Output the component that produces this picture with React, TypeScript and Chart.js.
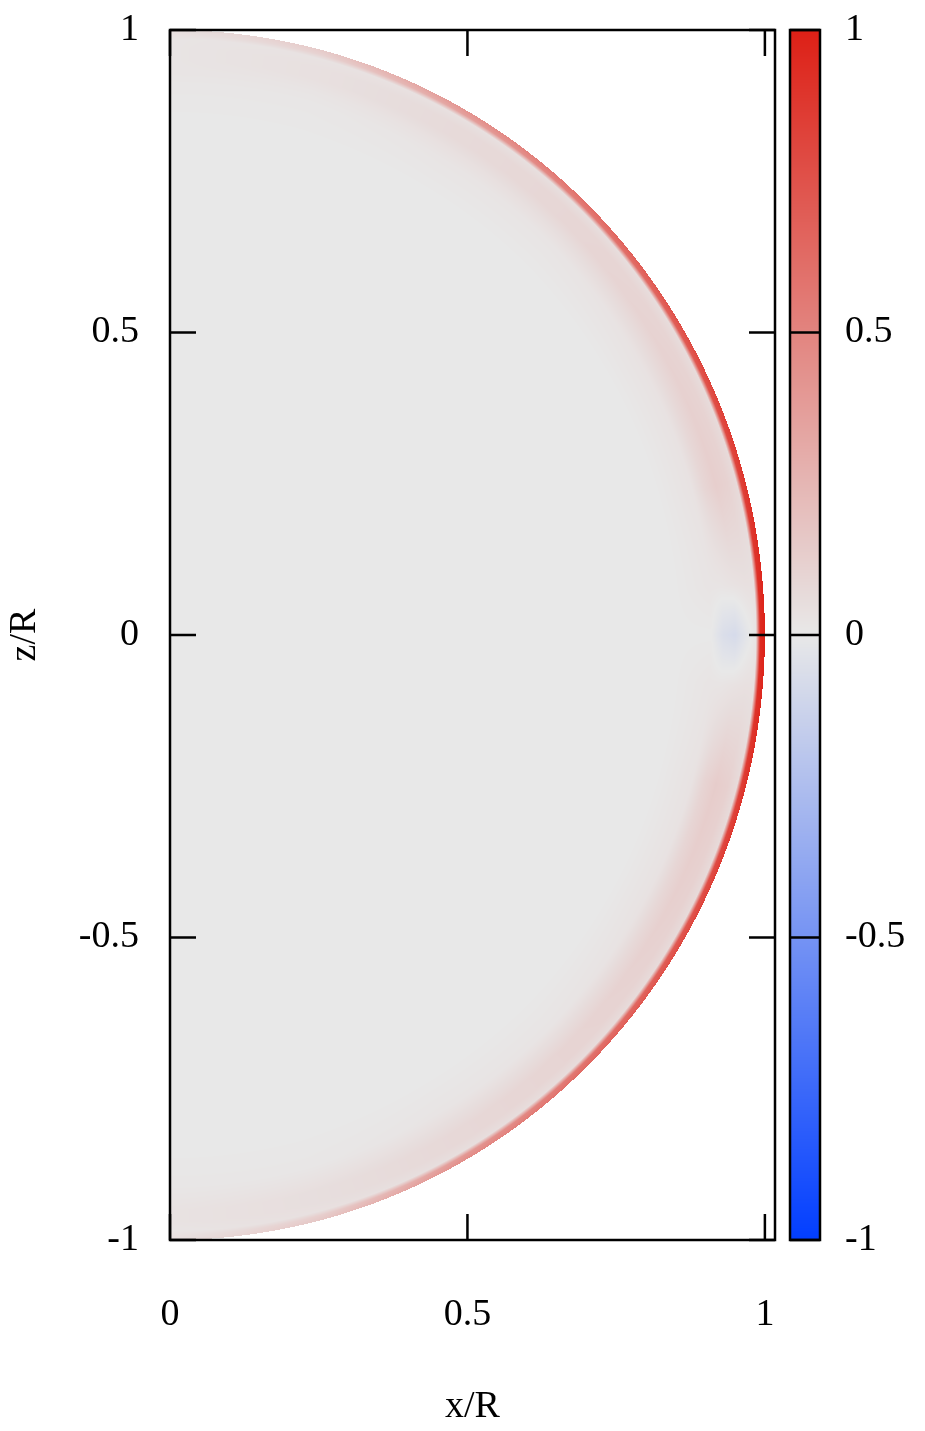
import React, { useEffect, useRef } from "react";
import { Chart, registerables } from "chart.js";

Chart.register(...registerables);

// ---- Axis tick values ----
const xTickValues = [0, 0.5, 1];
const zTickValues = [-1, -0.5, 0, 0.5, 1];
const colorTickValues = [-1, -0.5, 0, 0.5, 1];

// ---- Field sampled on a (latitude, radius) grid, values in [-1, 1] ----
const radiusNodes = [0, 0.85, 0.91, 0.93, 0.95, 0.97, 0.985, 0.992, 1.0];
const latitudeNodes = [-90, -75, -60, -45, -30, -15, -5, 0, 5, 15, 30, 45, 60, 75, 90];
const fieldValues = [
  [0, 0, 0.01, 0.02, 0.03, 0.03, 0.02, 0.03, 0.04], // -90
  [0, 0, 0.01, 0.03, 0.05, 0.05, 0.04, 0.13, 0.17], // -75
  [0, 0, 0.02, 0.05, 0.08, 0.08, 0.05, 0.4, 0.46], // -60
  [0, 0, 0.02, 0.06, 0.1, 0.1, 0.06, 0.58, 0.64], // -45
  [0, 0, 0.03, 0.08, 0.12, 0.11, 0.07, 0.72, 0.8], // -30
  [0, 0, 0.03, 0.1, 0.14, 0.12, 0.07, 0.84, 0.91], // -15
  [0, 0, 0.02, 0.02, 0.03, 0.04, 0.04, 0.92, 0.97], // -5
  [0, 0, 0, -0.06, -0.08, -0.02, 0.02, 0.95, 1.0], // 0
  [0, 0, 0.02, 0.02, 0.03, 0.04, 0.04, 0.92, 0.97], // 5
  [0, 0, 0.03, 0.09, 0.13, 0.11, 0.07, 0.83, 0.9], // 15
  [0, 0, 0.03, 0.07, 0.11, 0.1, 0.06, 0.7, 0.78], // 30
  [0, 0, 0.02, 0.05, 0.09, 0.09, 0.05, 0.55, 0.62], // 45
  [0, 0, 0.02, 0.04, 0.07, 0.07, 0.04, 0.36, 0.43], // 60
  [0, 0, 0.01, 0.02, 0.04, 0.04, 0.03, 0.11, 0.15], // 75
  [0, 0, 0.01, 0.02, 0.02, 0.02, 0.02, 0.03, 0.04], // 90
];

// ---- Colour map ----
const COLOR_NEG = [2, 62, 255];
const COLOR_MID = [232, 232, 232];
const COLOR_POS = [221, 32, 22];

function colorRGB(v: number): number[] {
  const t = Math.max(-1, Math.min(1, v));
  const end = t < 0 ? COLOR_NEG : COLOR_POS;
  const k = Math.abs(t);
  return [0, 1, 2].map((i) => Math.round(COLOR_MID[i] + (end[i] - COLOR_MID[i]) * k));
}

function findIndex(nodes: number[], v: number): [number, number] {
  if (v <= nodes[0]) return [0, 0];
  for (let i = 0; i < nodes.length - 1; i++) {
    if (v <= nodes[i + 1]) return [i, (v - nodes[i]) / (nodes[i + 1] - nodes[i])];
  }
  return [nodes.length - 2, 1];
}

function sampleField(r: number, latDeg: number): number {
  const [ri, rt] = findIndex(radiusNodes, r);
  const [li, lt] = findIndex(latitudeNodes, latDeg);
  const a = fieldValues[li][ri] * (1 - rt) + fieldValues[li][ri + 1] * rt;
  const b = fieldValues[li + 1][ri] * (1 - rt) + fieldValues[li + 1][ri + 1] * rt;
  return a * (1 - lt) + b * lt;
}

const FONT = { family: "'Liberation Serif', 'Times New Roman', serif", size: 38 };
const TICK_LEN = 26;

const heatPlugin = {
  id: "heatField",
  beforeDatasetsDraw(chart: any) {
    const { ctx, chartArea: a, scales } = chart;
    const xs = scales.x;
    const ys = scales.y;
    const w = Math.round(a.right - a.left);
    const h = Math.round(a.bottom - a.top);
    const img = ctx.createImageData(w, h);
    const d = img.data;
    for (let py = 0; py < h; py++) {
      const zv = ys.getValueForPixel(a.top + py + 0.5);
      for (let px = 0; px < w; px++) {
        const xv = xs.getValueForPixel(a.left + px + 0.5);
        const r = Math.sqrt(xv * xv + zv * zv);
        if (r > 1 || xv < 0) continue;
        const lat = r > 0 ? (Math.asin(zv / r) * 180) / Math.PI : 0;
        const c = colorRGB(sampleField(r, lat));
        const o = (py * w + px) * 4;
        d[o] = c[0];
        d[o + 1] = c[1];
        d[o + 2] = c[2];
        d[o + 3] = 255;
      }
    }
    ctx.putImageData(img, Math.round(a.left), Math.round(a.top));
  },
  afterDraw(chart: any) {
    const { ctx, chartArea: a, scales } = chart;
    const xs = scales.x;
    const ys = scales.y;
    const cb = scales.cb;
    ctx.save();
    ctx.strokeStyle = "#000";
    ctx.lineWidth = 2.5;
    // frame
    ctx.strokeRect(a.left, a.top, a.right - a.left, a.bottom - a.top);
    // ticks
    ctx.beginPath();
    xTickValues.forEach((v) => {
      const px = xs.getPixelForValue(v);
      ctx.moveTo(px, a.bottom);
      ctx.lineTo(px, a.bottom - TICK_LEN);
      ctx.moveTo(px, a.top);
      ctx.lineTo(px, a.top + TICK_LEN);
    });
    zTickValues.forEach((v) => {
      const py = ys.getPixelForValue(v);
      ctx.moveTo(a.left, py);
      ctx.lineTo(a.left + TICK_LEN, py);
      ctx.moveTo(a.right, py);
      ctx.lineTo(a.right - TICK_LEN, py);
    });
    ctx.stroke();

    // colour bar
    const left = a.right + 15;
    const width = 30;
    const top = cb.top;
    const bottom = cb.bottom;
    for (let py = Math.floor(top); py < bottom; py++) {
      const c = colorRGB(cb.getValueForPixel(py + 0.5));
      ctx.fillStyle = `rgb(${c[0]},${c[1]},${c[2]})`;
      ctx.fillRect(left, py, width, 1);
    }
    ctx.strokeRect(left, top, width, bottom - top);
    ctx.beginPath();
    colorTickValues.forEach((v) => {
      const py = cb.getPixelForValue(v);
      ctx.moveTo(left, py);
      ctx.lineTo(left + width, py);
    });
    ctx.stroke();
    ctx.restore();
  },
};

export default function App() {
  const canvasRef = useRef<HTMLCanvasElement | null>(null);

  useEffect(() => {
    if (!canvasRef.current) return;
    const tickCommon = {
      font: FONT,
      color: "#000",
      autoSkip: false,
      maxRotation: 0,
      callback: (v: any) => String(v),
    };
    const fixPadding = (s: any) => {
      s.paddingTop = 0;
      s.paddingBottom = 0;
      s.paddingLeft = 0;
      s.paddingRight = 0;
    };
    const chart = new Chart(canvasRef.current, {
      type: "scatter",
      data: { datasets: [{ data: [], showLine: false }] },
      plugins: [heatPlugin],
      options: {
        animation: false,
        responsive: true,
        maintainAspectRatio: false,
        layout: { padding: { top: 30, left: 0, right: 0, bottom: 0 } },
        plugins: { legend: { display: false }, tooltip: { enabled: false } },
        scales: {
          x: {
            type: "linear",
            position: "bottom",
            min: 0,
            max: 1.017,
            afterBuildTicks: (s: any) => {
              s.ticks = xTickValues.map((v) => ({ value: v }));
            },
            afterFit: (s: any) => {
              s.height = 191;
              fixPadding(s);
            },
            grid: { display: false, drawTicks: false },
            border: { display: false },
            ticks: { ...tickCommon, padding: 52 },
            title: { display: true, text: "x/R", font: FONT, color: "#000", padding: { top: 0, bottom: 1 } },
          },
          y: {
            type: "linear",
            position: "left",
            min: -1,
            max: 1,
            afterBuildTicks: (s: any) => {
              s.ticks = zTickValues.map((v) => ({ value: v }));
            },
            afterFit: (s: any) => {
              s.width = 170;
              fixPadding(s);
            },
            grid: { display: false, drawTicks: false },
            border: { display: false },
            ticks: { ...tickCommon, padding: 31 },
            title: { display: true, text: "z/R", font: FONT, color: "#000", padding: { top: 2, bottom: 0 } },
          },
          cb: {
            type: "linear",
            position: "right",
            min: -1,
            max: 1,
            afterBuildTicks: (s: any) => {
              s.ticks = colorTickValues.map((v) => ({ value: v }));
            },
            afterFit: (s: any) => {
              s.width = 150;
              fixPadding(s);
            },
            grid: { display: false, drawTicks: false },
            border: { display: false },
            ticks: { ...tickCommon, padding: 70 },
          },
        },
      } as any,
    });
    return () => chart.destroy();
  }, []);

  return (
    <div style={{ position: "absolute", left: 0, top: 0, width: 925, height: 1431, background: "#fff" }}>
      <canvas ref={canvasRef} />
    </div>
  );
}
